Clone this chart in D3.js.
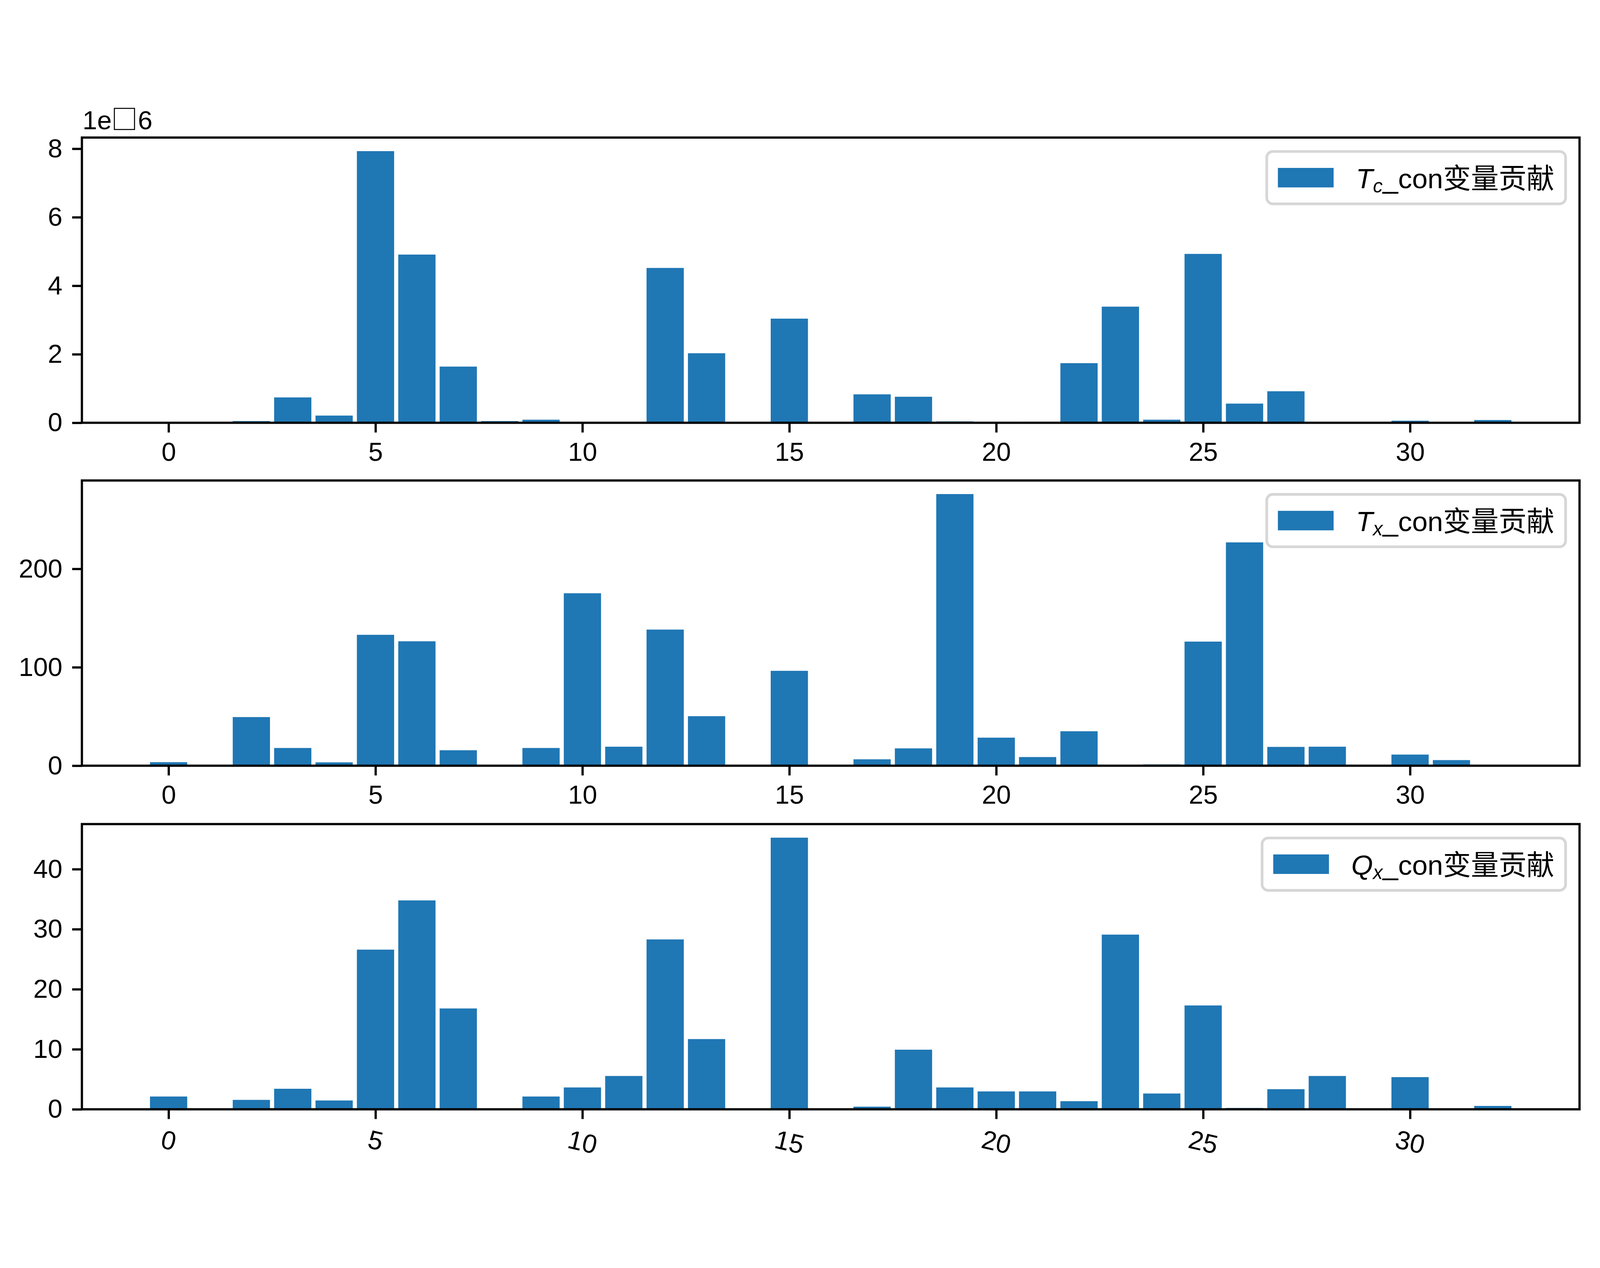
<!doctype html>
<html>
<head>
<meta charset="utf-8">
<title>变量贡献</title>
<script src="https://cdnjs.cloudflare.com/ajax/libs/d3/7.8.5/d3.min.js"></script>
<style>
  html, body { margin: 0; padding: 0; background: #fff; overflow: hidden; }
  svg { display: block; width: 100vw; height: 100vh; }
  text { font-family: "Liberation Sans", "Noto Sans CJK SC", sans-serif; fill: #000; }
</style>
</head>
<body>
<div id="chart"></div>
<script>
// data
const categories = [0, 1, 2, 3, 4, 5, 6, 7, 8, 9, 10, 11, 12, 13, 14, 15, 16,
                    17, 18, 19, 20, 21, 22, 23, 24, 25, 26, 27, 28, 29, 30, 31, 32];

const tcValues = [0, 0, 0.05e6, 0.74e6, 0.21e6, 7.93e6, 4.91e6, 1.64e6, 0.05e6, 0.09e6, 0, 0,
                  4.52e6, 2.03e6, 0, 3.04e6, 0, 0.83e6, 0.76e6, 0.04e6, 0, 0.03e6, 1.74e6,
                  3.39e6, 0.09e6, 4.93e6, 0.56e6, 0.92e6, 0, 0, 0.06e6, 0, 0.08e6];

const txValues = [3.6, 0, 49.4, 18.0, 3.4, 133.0, 126.4, 15.7, 0, 18.0, 175.2, 19.3, 138.3,
                  50.3, 0, 96.4, 0, 6.5, 17.6, 276, 28.5, 8.8, 35.0, 0, 1.3, 126.1, 226.9,
                  19.1, 19.3, 0, 11.3, 5.7, 0];

const qxValues = [2.13, 0, 1.57, 3.42, 1.47, 26.6, 34.8, 16.8, 0, 2.13, 3.64, 5.55, 28.3,
                  11.7, 0, 45.25, 0, 0.44, 9.93, 3.64, 2.98, 2.98, 1.35, 29.1, 2.63, 17.3,
                  0.22, 3.35, 5.55, 0, 5.36, 0, 0.56];

const xTicks = [0, 5, 10, 15, 20, 25, 30];
const tcTicks = [0, 2e6, 4e6, 6e6, 8e6];
const tcTickLabels = ['0', '2', '4', '6', '8'];
const txTicks = [0, 100, 200];
const qxTicks = [0, 10, 20, 30, 40];

const legendSymbols = ['T', 'T', 'Q'];
const legendSubs = ['c', 'x', 'x'];
const legendSuffix = '_con变量贡献';
const offsetParts = ['1e', '6'];

// layout (pixels, figure at 600 dpi)
const W = 4767, H = 3247;
const left = 244, right = 4706;
const panelTops = [144, 1166, 2190];
const panelH = 850;
const barColor = '#1f77b4';
const spineW = 6.7, tickLen = 29, tickPad = 29;
const tickFont = 78, legendFont = 83;
const barWidth = 0.9;

const panels = [
  { values: tcValues, ticks: tcTicks, fmt: (d, i) => tcTickLabels[i], rotate: 0 },
  { values: txValues, ticks: txTicks, fmt: d3.format('d'), rotate: 0 },
  { values: qxValues, ticks: qxTicks, fmt: d3.format('d'), rotate: 13 }
];

const svg = d3.select('#chart')
  .append('svg')
  .attr('viewBox', `0 0 ${W} ${H}`)
  .attr('preserveAspectRatio', 'xMidYMid meet')
  .style('background', '#fff');

// x limits like matplotlib: bar extent plus 5% margin
const xMin = d3.min(categories) - barWidth / 2;
const xMax = d3.max(categories) + barWidth / 2;
const xPad = (xMax - xMin) * 0.05;
const x = d3.scaleLinear()
  .domain([xMin - xPad, xMax + xPad])
  .range([left, right]);

panels.forEach(function(p, k) {
  const g = svg.append('g').attr('transform', `translate(0,${panelTops[k]})`);

  const y = d3.scaleLinear()
    .domain([0, d3.max(p.values) * 1.05])
    .range([panelH, 0]);

  // bars
  g.selectAll('rect.bar')
    .data(categories.map((c, i) => ({ c: c, v: p.values[i] })).filter(d => d.v > 0))
    .join('rect')
    .attr('class', 'bar')
    .attr('x', d => x(d.c - barWidth / 2))
    .attr('width', d => x(d.c + barWidth / 2) - x(d.c - barWidth / 2))
    .attr('y', d => y(d.v))
    .attr('height', d => y(0) - y(d.v))
    .style('fill', barColor);

  // y axis
  const yAxis = g.append('g')
    .attr('transform', `translate(${left},0)`)
    .call(d3.axisLeft(y).tickValues(p.ticks).tickFormat(p.fmt)
      .tickSize(tickLen).tickPadding(tickPad).tickSizeOuter(0));

  // x axis
  const xAxis = g.append('g')
    .attr('transform', `translate(0,${panelH})`)
    .call(d3.axisBottom(x).tickValues(xTicks).tickFormat(d3.format('d'))
      .tickSize(tickLen).tickPadding(tickPad).tickSizeOuter(0));

  [yAxis, xAxis].forEach(function(ax) {
    ax.select('.domain').remove();
    ax.attr('font-size', tickFont).attr('font-family', null);
    ax.selectAll('.tick line').attr('stroke', '#000').attr('stroke-width', spineW);
    ax.selectAll('.tick text').attr('fill', '#000');
  });

  if (p.rotate) {
    const rad = p.rotate * Math.PI / 180;
    xAxis.selectAll('.tick text').each(function() {
      const w = this.getBBox().width;
      const h = tickFont * 0.72;
      const cy = tickLen + tickPad + (w * Math.sin(rad) + h * Math.cos(rad)) / 2 + 2;
      d3.select(this)
        .attr('y', 0)
        .attr('dy', '0.35em')
        .attr('text-anchor', 'middle')
        .attr('transform', `translate(0,${cy}) rotate(${p.rotate})`);
    });
  }

  // spines
  g.append('rect')
    .attr('x', left)
    .attr('y', 0)
    .attr('width', right - left)
    .attr('height', panelH)
    .style('fill', 'none')
    .style('stroke', '#000')
    .style('stroke-width', spineW);

  // legend
  const pad = 0.4 * legendFont, handleW = 2 * legendFont, handleH = 0.7 * legendFont;
  const textPad = 0.8 * legendFont, axPad = 0.5 * legendFont;
  const legH = 156;
  const lg = g.append('g');
  const frame = lg.append('rect');
  const handle = lg.append('rect');
  const label = lg.append('text').attr('font-size', legendFont);
  label.append('tspan').attr('font-style', 'italic').text(legendSymbols[k]);
  label.append('tspan').attr('font-style', 'italic').attr('font-size', legendFont * 0.7)
    .attr('dy', 13).text(legendSubs[k]);
  label.append('tspan').attr('dy', -13).text(legendSuffix);
  const textW = label.node().getComputedTextLength();
  const legW = pad + handleW + textPad + textW + pad;
  const lx = right - axPad - legW;
  const ly = axPad;
  frame.attr('x', lx).attr('y', ly).attr('width', legW).attr('height', legH)
    .attr('rx', 18)
    .style('fill', '#fff').style('fill-opacity', 0.8)
    .style('stroke', '#d6d6d6').style('stroke-width', 8);
  handle.attr('x', lx + pad).attr('y', ly + legH / 2 - handleH / 2)
    .attr('width', handleW).attr('height', handleH)
    .style('fill', barColor);
  label.attr('x', lx + pad + handleW + textPad).attr('y', ly + legH / 2 + 0.38 * legendFont);
});

// scale offset text of the top panel (the minus sign shows as a missing-glyph box)
const off = svg.append('g').attr('font-size', tickFont);
const offA = off.append('text').attr('x', 246).attr('y', 119).text(offsetParts[0]);
const boxX = 246 + offA.node().getComputedTextLength() + 8;
off.append('rect')
  .attr('x', boxX).attr('y', 57).attr('width', 60).attr('height', 63)
  .style('fill', 'none').style('stroke', '#000').style('stroke-width', 3);
off.append('text').attr('x', boxX + 70).attr('y', 119).text(offsetParts[1]);
</script>
</body>
</html>
